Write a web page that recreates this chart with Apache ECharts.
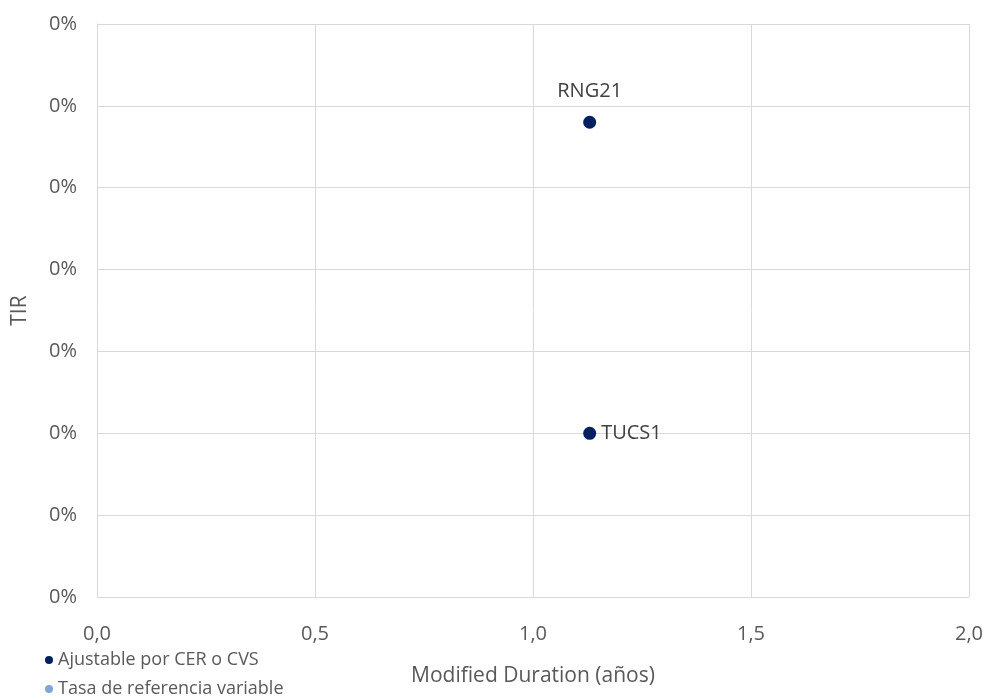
<!DOCTYPE html>
<html><head><meta charset="utf-8">
<script src="https://cdn.jsdelivr.net/npm/echarts@6/dist/echarts.min.js"></script>
<style>html,body{margin:0;padding:0;background:#fff}#c{width:987px;height:700px}</style>
</head><body><div id="c"></div>
<script>
const seriesNames = ["Ajustable por CER o CVS", "Tasa de referencia variable"];
const cerNames = ["RNG21", "TUCS1"];
const cerDuration = [1.13, 1.13];
const cerTIR = [0.0029, 0.001];
const varNames = [];
const varDuration = [];
const varTIR = [];
const labelPos = ["top", "right"];

const chart = echarts.init(document.getElementById('c'));
const fontFam = "'Open Sans', 'Noto Sans', sans-serif";
const legendBase = {
  orient: 'vertical', left: 45, padding: 0,
  icon: 'circle', itemWidth: 8, itemHeight: 8, itemGap: 0,
  textStyle: {color: '#595959', fontSize: 18, fontFamily: fontFam}
};
chart.setOption({
  animation: false,
  textStyle: {fontFamily: fontFam},
  grid: {left: 97, right: 18, top: 24, bottom: 103, containLabel: false},
  legend: [
    Object.assign({}, legendBase, {top: 651, data: [seriesNames[0]]}),
    Object.assign({}, legendBase, {top: 680, data: [seriesNames[1]]})
  ],
  xAxis: {
    type: 'value', min: 0, max: 2, interval: 0.5,
    name: 'Modified Duration (años)', nameLocation: 'middle', nameGap: 69,
    nameTextStyle: {color: '#595959', fontSize: 21},
    axisLine: {show: false}, axisTick: {show: false},
    axisLabel: {color: '#595959', fontSize: 20, margin: 27,
      formatter: v => v.toFixed(1).replace('.', ',')},
    splitLine: {show: true, lineStyle: {color: '#d9d9d9'}}
  },
  yAxis: {
    type: 'value', min: 0, max: 0.0035, interval: 0.0005,
    name: 'TIR', nameLocation: 'middle', nameGap: 66,
    nameTextStyle: {color: '#595959', fontSize: 21},
    axisLine: {show: true, lineStyle: {color: '#d9d9d9'}}, axisTick: {show: false},
    axisLabel: {color: '#595959', fontSize: 20, margin: 20,
      formatter: v => (v * 100).toFixed(0) + '%'},
    splitLine: {show: true, lineStyle: {color: '#d9d9d9'}}
  },
  series: [
    {
      name: seriesNames[0], type: 'scatter', symbolSize: 13,
      itemStyle: {color: '#002060', opacity: 1},
      data: cerNames.map((n, i) => ({
        value: [cerDuration[i], cerTIR[i]], name: n,
        label: {show: true, position: labelPos[i], distance: labelPos[i] === 'top' ? 14 : 5,
          formatter: n, color: '#404040', fontSize: 20}
      }))
    },
    {
      name: seriesNames[1], type: 'scatter', symbolSize: 13,
      itemStyle: {color: '#7fa7d4', opacity: 1},
      data: varNames.map((n, i) => ({value: [varDuration[i], varTIR[i]], name: n}))
    }
  ]
});
</script></body></html>
